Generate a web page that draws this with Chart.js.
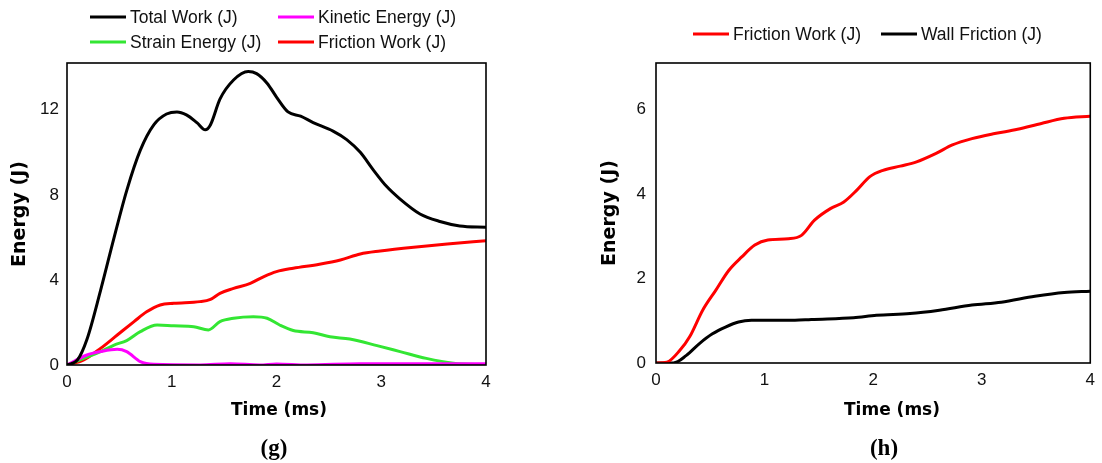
<!DOCTYPE html>
<html>
<head>
<meta charset="utf-8">
<title>Energy histories</title>
<script src="https://cdn.jsdelivr.net/npm/chart.js@4.4.1/dist/chart.umd.min.js"></script>
<style>
  html, body { margin: 0; padding: 0; background: #fff; }
  #wrap { position: relative; width: 1102px; height: 463px; }
  #wrap canvas { position: absolute; top: 0; }
</style>
</head>
<body>
<div id="wrap">
  <canvas id="chartG" width="551" height="463" style="left:0"></canvas>
  <canvas id="chartH" width="551" height="463" style="left:551px"></canvas>
</div>
<script>
// tick values
const xTicks = [0, 1, 2, 3, 4];
const yTicksG = [0, 4, 8, 12];
const yTicksH = [0, 2, 4, 6];

// (g) energy balance, time in ms, energy in J
const totalWorkT = [0, 0.1, 0.19, 0.32, 0.45, 0.57, 0.7, 0.83, 0.95, 1.05, 1.14, 1.24, 1.32, 1.37, 1.46, 1.59, 1.73, 1.81, 1.91, 2.0, 2.11, 2.23, 2.35, 2.54, 2.67, 2.8, 2.92, 3.05, 3.18, 3.37, 3.56, 3.75, 4.0];
const totalWorkE = [0, 0.24, 1.2, 3.5, 6.0, 8.2, 10.1, 11.3, 11.8, 11.9, 11.76, 11.4, 11.06, 11.3, 12.5, 13.4, 13.8, 13.7, 13.25, 12.6, 11.9, 11.7, 11.4, 11.0, 10.6, 10.0, 9.2, 8.4, 7.8, 7.1, 6.75, 6.54, 6.48];

const kineticT = [0, 0.19, 0.32, 0.48, 0.57, 0.7, 0.83, 1.27, 1.56, 1.84, 2.0, 2.29, 2.8, 4.0];
const kineticE = [0, 0.47, 0.63, 0.74, 0.63, 0.16, 0.03, 0, 0.06, 0, 0.05, 0, 0.06, 0.06];

const strainT = [0, 0.16, 0.32, 0.45, 0.57, 0.7, 0.86, 1.02, 1.21, 1.35, 1.46, 1.59, 1.78, 1.91, 2.03, 2.16, 2.35, 2.51, 2.7, 2.96, 3.18, 3.43, 3.69, 4.0];
const strainE = [0, 0.31, 0.63, 0.94, 1.15, 1.57, 1.88, 1.84, 1.8, 1.65, 2.04, 2.2, 2.27, 2.2, 1.88, 1.62, 1.52, 1.33, 1.22, 0.91, 0.63, 0.31, 0.08, 0];

const frictionGT = [0, 0.16, 0.32, 0.48, 0.64, 0.76, 0.89, 1.02, 1.27, 1.37, 1.46, 1.59, 1.75, 1.88, 2.0, 2.16, 2.41, 2.61, 2.8, 2.99, 3.31, 3.63, 4.0];
const frictionGE = [0, 0.24, 0.78, 1.41, 2.04, 2.5, 2.82, 2.9, 2.98, 3.09, 3.37, 3.6, 3.84, 4.16, 4.39, 4.55, 4.74, 4.94, 5.22, 5.36, 5.54, 5.69, 5.84];

// (h) friction split
const frictionHT = [0, 0.1, 0.22, 0.31, 0.43, 0.55, 0.67, 0.79, 0.91, 1.03, 1.22, 1.34, 1.46, 1.61, 1.73, 1.85, 1.97, 2.09, 2.25, 2.4, 2.58, 2.73, 2.91, 3.12, 3.33, 3.55, 3.76, 4.0];
const frictionHE = [0, 0.02, 0.3, 0.62, 1.25, 1.72, 2.19, 2.51, 2.79, 2.91, 2.94, 3.02, 3.38, 3.66, 3.81, 4.09, 4.41, 4.56, 4.66, 4.76, 4.96, 5.16, 5.31, 5.43, 5.53, 5.67, 5.79, 5.84];

const wallT = [0, 0.16, 0.28, 0.4, 0.52, 0.64, 0.76, 0.88, 1.28, 1.43, 1.82, 2.03, 2.34, 2.61, 2.91, 3.18, 3.49, 3.76, 4.0];
const wallE = [0, 0, 0.18, 0.46, 0.69, 0.85, 0.97, 1.01, 1.01, 1.03, 1.07, 1.13, 1.17, 1.25, 1.37, 1.44, 1.58, 1.67, 1.7];

const pts = (t, e) => t.map((x, i) => ({ x: x, y: e[i] }));

const SANS = '"Liberation Sans", Arial, sans-serif';
const BOLD_SANS = '"DejaVu Sans", sans-serif';

// black box round the plot area
const framePlugin = {
  id: 'frame',
  afterDatasetsDraw(chart) {
    const { ctx, chartArea: a } = chart;
    ctx.save();
    ctx.strokeStyle = '#000';
    ctx.lineWidth = 1.6;
    ctx.strokeRect(a.left, a.top, a.right - a.left, a.bottom - a.top);
    ctx.restore();
  }
};

// legend laid out on a fixed grid of columns and rows
const gridLegend = {
  id: 'gridLegend',
  afterDraw(chart, args, opts) {
    const { ctx } = chart;
    ctx.save();
    ctx.font = opts.font;
    ctx.textBaseline = 'middle';
    ctx.textAlign = 'left';
    chart.data.datasets.forEach((ds, i) => {
      const x = opts.cols[i % opts.cols.length];
      const y = opts.rows[Math.floor(i / opts.cols.length)];
      ctx.strokeStyle = ds.borderColor;
      ctx.lineWidth = 3;
      ctx.beginPath();
      ctx.moveTo(x, y);
      ctx.lineTo(x + 36, y);
      ctx.stroke();
      ctx.fillStyle = '#111';
      ctx.fillText(ds.label, x + 40, y + 1);
    });
    ctx.restore();
  }
};

// axis title under the ticks and the panel letter
const captions = {
  id: 'captions',
  afterDraw(chart, args, opts) {
    const { ctx } = chart;
    ctx.save();
    ctx.fillStyle = '#000';
    ctx.textAlign = 'center';
    ctx.textBaseline = 'middle';
    opts.items.forEach(c => {
      ctx.font = c.font;
      ctx.fillText(c.text, c.x, c.y);
    });
    ctx.restore();
  }
};

function line(label, data, color) {
  return {
    label: label,
    data: data,
    borderColor: color,
    backgroundColor: color,
    borderWidth: 3,
    pointRadius: 0,
    cubicInterpolationMode: 'monotone',
    fill: false
  };
}

function makeOptions(cfg) {
  return {
    responsive: false,
    animation: false,
    layout: { padding: cfg.padding },
    plugins: {
      legend: { display: false },
      tooltip: { enabled: false },
      gridLegend: cfg.legend,
      captions: { items: cfg.captions }
    },
    scales: {
      x: {
        type: 'linear',
        min: 0,
        max: 4,
        afterBuildTicks: s => { s.ticks = xTicks.map(v => ({ value: v })); },
        afterFit: s => { s.height = 60; },
        grid: { display: false, drawTicks: false },
        border: { display: false },
        ticks: { font: { family: SANS, size: 17 }, color: '#111', padding: 7, maxRotation: 0, autoSkip: false }
      },
      y: {
        type: 'linear',
        min: 0,
        max: cfg.yMax,
        afterBuildTicks: s => { s.ticks = cfg.yTicks.map(v => ({ value: v })); },
        afterFit: s => { s.width = 67; },
        grid: { display: false, drawTicks: false },
        border: { display: false },
        ticks: { font: { family: SANS, size: 17 }, color: '#111', padding: cfg.tickPad },
        title: {
          display: true,
          text: 'Energy (J)',
          color: '#000',
          font: { family: BOLD_SANS, size: 19, weight: 'bold' },
          padding: { top: cfg.titlePad, bottom: 0 }
        }
      }
    }
  };
}

new Chart(document.getElementById('chartG'), {
  type: 'line',
  data: {
    datasets: [
      line('Total Work (J)', pts(totalWorkT, totalWorkE), '#000000'),
      line('Kinetic Energy (J)', pts(kineticT, kineticE), '#ff00ff'),
      line('Strain Energy (J)', pts(strainT, strainE), '#33e633'),
      line('Friction Work (J)', pts(frictionGT, frictionGE), '#ff0000')
    ]
  },
  options: makeOptions({
    padding: { top: 63, left: 0, right: 65, bottom: 38 },
    yMax: 14.2,
    yTicks: yTicksG,
    tickPad: 8,
    titlePad: 9,
    legend: { cols: [90, 278], rows: [17, 42], font: '17.5px ' + SANS },
    captions: [
      { text: 'Time (ms)', x: 279, y: 411, font: 'bold 17px ' + BOLD_SANS },
      { text: '(g)', x: 274, y: 449, font: 'bold 23px "Liberation Serif", serif' }
    ]
  }),
  plugins: [framePlugin, gridLegend, captions]
});

new Chart(document.getElementById('chartH'), {
  type: 'line',
  data: {
    datasets: [
      line('Friction Work (J)', pts(frictionHT, frictionHE), '#ff0000'),
      line('Wall Friction (J)', pts(wallT, wallE), '#000000')
    ]
  },
  options: makeOptions({
    padding: { top: 63, left: 38, right: 5, bottom: 40 },
    yMax: 7.1,
    yTicks: yTicksH,
    tickPad: 10,
    titlePad: 10,
    legend: { cols: [142, 330], rows: [34], font: '17.5px ' + SANS },
    captions: [
      { text: 'Time (ms)', x: 341, y: 411, font: 'bold 17px ' + BOLD_SANS },
      { text: '(h)', x: 333, y: 449, font: 'bold 23px "Liberation Serif", serif' }
    ]
  }),
  plugins: [framePlugin, gridLegend, captions]
});
</script>
</body>
</html>
